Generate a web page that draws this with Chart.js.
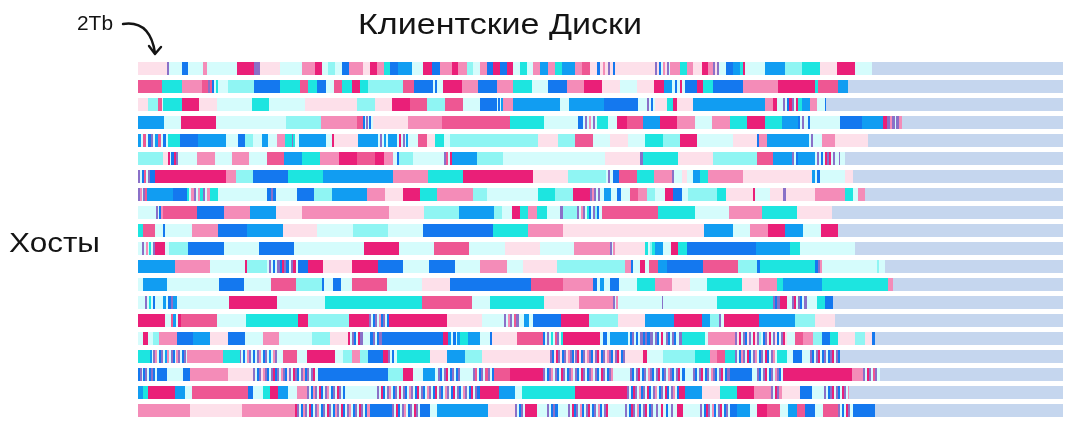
<!DOCTYPE html>
<html>
<head>
<meta charset="utf-8">
<script src="https://cdn.jsdelivr.net/npm/chart.js@4.4.1/dist/chart.umd.min.js"></script>
<style>
  html, body { margin: 0; padding: 0; background: #fff; }
  #wrap { position: relative; width: 1077px; height: 432px; }
  #disks { position: absolute; left: 0; top: 0; }
  #notes { position: absolute; left: 0; top: 0; pointer-events: none; }
  #notes text { font-family: "Liberation Sans", Arial, sans-serif; fill: #141414; }
</style>
</head>
<body>
<div id="wrap">
  <canvas id="disks" width="1077" height="432"></canvas>
  <svg id="notes" width="1077" height="432">
    <text x="358" y="34" font-size="29" textLength="284" lengthAdjust="spacingAndGlyphs">Клиентские Диски</text>
    <text x="9" y="252" font-size="28" textLength="91" lengthAdjust="spacingAndGlyphs">Хосты</text>
    <text x="77" y="30" font-size="20" textLength="36" lengthAdjust="spacingAndGlyphs">2Tb</text>
    <path d="M123,24 Q150,20 155,53" fill="none" stroke="#141414" stroke-width="2.4" stroke-linecap="round"/>
    <path d="M149,46 L155,54 L161,47" fill="none" stroke="#141414" stroke-width="2.4" stroke-linecap="round" stroke-linejoin="round"/>
  </svg>
</div>
<script>
// one bar per host, every host has the same capacity
const hosts = [
  "Хост 1", "Хост 2", "Хост 3", "Хост 4", "Хост 5",
  "Хост 6", "Хост 7", "Хост 8", "Хост 9", "Хост 10",
  "Хост 11", "Хост 12", "Хост 13", "Хост 14", "Хост 15",
  "Хост 16", "Хост 17", "Хост 18", "Хост 19", "Хост 20",
];
const capacity = [925, 925, 925, 925, 925, 925, 925, 925, 925, 925,
                  925, 925, 925, 925, 925, 925, 925, 925, 925, 925];

// client disks on each host, in order: colour letter + size
const host1 = "L29 v2 c13 B6 c15 p4 c30 m17 v6 L20 c22 p13 m7 c6 a7 c7 B7 p14 L7 m7 p7 t6 B8 b14 c11 m9 B8 p12 m6 p9 a6 c7 p7 B6 m7 B7 m6 c7 t7 c6 p7 b8 p7 t7 b13 p7 r8 L7 B3 L3 p2 L3 v2 L3 B2 L2 L38 v2 L2 B2 c2 p2 L2 v2 c1 p10 t7 p6 L9 m6 p5 v2 L2 v2 c1 c6 B7 b7 t3 m2 c3 c17 b20 a17 t18 L17 m18 c17";
const host2 = "r24 t20 p20 r6 v2 r2 B2 c2 t2 c10 a26 B26 t20 r8 t9 B9 c8 r8 t10 m8 t8 a35 r11 B19 c2 B2 c6 m19 p16 B19 p16 t19 c16 B19 p17 m18 L18 c17 L17 m10 b8 c3 B2 c3 m2 c3 B2 B10 m6 t10 B30 p35 m37 t3 r20 b10";
const host3 = "L10 a10 r4 c1 t19 m17 L18 c35 t17 c36 L52 a18 L17 m18 r17 a18 r18 c17 B17 c1 B2 c1 b2 p10 b47 c3 c6 b35 B34 c9 v2 c2 B2 c2 L12 t6 m4 L16 b72 p8 m4 c6 v2 c2 B2 m3 v2 c2 m2 t4 b8 p7 c8 B1";
const host4 = "b26 c17 m35 c70 a35 p36 r6 B2 c1 v2 c1 B2 c2 L35 p34 r68 t34 c34 B5 c2 v2 c2 p2 c2 v2 c2 t11 c9 m10 r16 b17 m17 p18 c17 p18 t17 m18 t17 b16 B2 c2 v2 c1 c3 B2 c5 c25 B22 b21 m4 v3 p2 v3 c1 v3 p3";
const host5 = "b3 c2 r3 c2 B3 v2 c2 b3 r3 c2 B3 c2 t12 B18 b28 c12 B7 a8 c9 b6 c9 p8 t7 v1 t2 c4 b27 c6 m2 L24 b20 c2 v2 c2 b2 c2 b9 c2 m2 c2 v2 c1 b2 c10 r9 L8 t9 c6 a88 L20 a17 r18 c17 L18 c17 t18 a17 m17 c36 L24 B2 p8 b42 c2 v2 c9 p13 L33";
const host6 = "a25 L5 m2 c1 B3 m2 v2 c19 p18 c17 p17 c18 r17 b18 t18 p19 m18 r18 m9 p9 c4 B2 a14 c29 c2 v2 r2 c2 m2 b25 a26 c102 L35 v3 t35 L35 a44 r16 b19 v2 c2 B2 b17 c2 v2 c2 B2 c2 m2 v2 m2 c2 v2 c4 v1 c5";
const host7 = "v2 c2 B2 r2 c2 v2 B5 m71 p10 a17 B35 t35 b70 p35 t35 m70 L35 a38 c2 v2 c3 B6 r18 t17 p18 v2 c3 c5 L5 c6 b7 t8 p35 L69 b3 c2 B3 c25 L8";
const host8 = "v2 p2 c1 v2 r2 b26 B14 t2 c2 p3 v2 c2 p2 t3 v2 c2 p3 t8 c49 B4 v2 B3 c3 c18 B17 a18 b35 p18 L18 m17 t17 p36 a14 c51 t17 a18 m17 v2 p2 v2 c2 v2 c4 b7 c6 B4 c9 r8 p9 a8 c10 m8 B9 c6 a29 t9 L27 m2 c15 L13 v3 L29 p30 t8 c5 p7";
const host9 = "c18 v2 c1 B2 p2 r34 B27 p26 b26 L26 p87 L35 a35 b35 a8 c10 m8 t8 p9 t10 c13 v3 a14 v2 c2 p2 v2 c2 t2 B2 c2 v2 a2 B2 c3 r56 t37 c34 p33 t35 L35";
const host10 = "t5 r12 c8 B2 c27 p26 B29 b36 L34 c36 a35 c35 B70 t35 p35 L141 b29 c17 p18 m17 b18 c18 m17";
const host11 = "c4 v2 c2 p2 c1 t2 c2 v2 m10 c4 a19 B36 c35 B35 c70 m35 c35 r35 c36 L35 c34 p36 v2 c1 p2 L30 t3 c2 a2 t3 b8 c8 m7 t9 B69 b34 t10 c55";
const host12 = "b37 p35 c35 m2 a20 c2 v2 c2 B2 c2 v3 B2 m2 v2 B3 c2 v2 m3 c2 B10 m15 L29 m26 B25 c26 B26 c25 p27 c16 L34 a68 p6 B2 c7 m5 c4 r9 b9 B36 r35 a19 B3 t55 B3 v2 p2 c1 c54 a2 c6";
const host13 = "c5 b24 c52 B25 c27 r25 a26 B2 c9 B8 c11 r35 c35 L28 B81 r32 p30 B4 c3 b4 c6 B9 c18 t18 p17 L18 c17 t35 L17 p18 t6 b39 t66 p5";
const host14 = "c7 v2 c2 t2 c2 B2 c8 b3 c2 B3 v2 b4 c52 m48 c48 t97 r50 c18 t54 L35 p34 v2 c1 p2 c44 v1 c54 t56 v2 B2 v3 m7 c5 v2 m2 c2 v2 B2 c2 v3 c10 t8 B8";
const host15 = "m27 c6 r2 b3 c2 m3 r7 r29 c29 t52 m10 a41 m20 v2 c2 B2 v2 c2 p2 B2 v2 c2 B2 m58 L35 c22 v2 c2 p2 v2 c2 r2 v3 c5 b5 c4 B28 m28 a29 L27 b29 m28 b8 a9 v2 c3 m35 b36 a20 L20";
const host16 = "c5 m5 c5 a6 p18 B16 b17 L18 B17 c18 p16 c33 a18 L18 m2 c2 v2 B2 c2 m2 v3 c7 B3 v2 c2 B2 v3 B61 m5 b3 c2 B3 c1 b3 t8 b12 c10 B2 L25 r26 B2 c2 v2 c2 t2 c2 r2 v2 c2 t2 m37 c3 B4 c3 b18 c2 B2 v2 c2 B2 c2 v3 B2 v2 B3 v3 c2 v2 B2 c2 m2 c3 v2 B2 c2 v2 B2 c3 v3 t23 c3 p27 v2 L2 m2 c2 v2 B2 L2 v2 c2 m2 L2 v2 a2 c2 B2 v2 L2 m2 c2 v2 L2 B2 c2 v2 m2 L2 c8 r8 p10 a9 B8 t8 L17 a10 L7 B3";
const host17 = "t12 b2 c1 v2 p2 c2 B2 v2 c2 b2 p2 c2 v2 B2 c1 p2 v2 c2 B2 v2 c1 p36 t17 v1 c2 B2 c2 p2 v2 c2 B2 c2 v2 p2 c2 B2 v2 c2 b2 c2 p2 v2 c6 r14 c10 m28 c8 a9 p8 a8 B15 m5 v2 c2 B2 c3 t33 L17 b18 a17 L68 v2 B2 L2 m2 v2 L2 B2 v2 L2 p2 v2 B2 L1 v2 m2 L2 B2 v2 L2 p2 v2 B2 L2 v2 m2 L2 B2 v2 L2 p2 v2 B2 L2 v2 m2 L2 B2 v2 L3 L15 m4 c16 a32 t15 p7 r8 t10 v2 c2 B2 p2 v2 c2 m2 B2 c2 v2 p2 c2 B2 v2 c2 m2 B2 c2 v2 p2 c2 t10 c6 B9 c8 v2 B2 c2 v2 m2 c2 B2 v2 c2 B2 v2 m2 c2 v2 B2";
const host18 = "B2 v2 c1 B2 v2 c2 B2 v2 B2 c2 B10 c16 B7 p38 L25 v2 c2 B2 v2 L2 p2 v2 B2 c2 v2 m2 B2 v2 c2 p2 v2 B2 L2 v2 c2 m2 v2 B2 c2 v2 p2 B2 v2 c2 v2 m2 c3 B70 a15 m10 c10 b12 c3 v2 B2 c2 v2 m2 c2 B2 v2 c2 B2 v2 c3 c10 v2 r2 c2 B2 v2 c2 r3 v2 c2 B2 r6 r10 m33 v2 c2 B2 v2 p2 c2 v2 B2 c2 m2 v2 c2 B2 v2 p2 c2 v2 B2 c2 m2 v2 c2 B2 v2 p2 c2 v2 B2 c2 m2 v2 c2 B2 v2 p2 c17 v2 B2 c2 v2 m2 c2 B2 v2 c2 p2 v2 B2 c2 v2 m2 c2 B2 v2 c2 p2 v2 B2 c2 v2 m2 c2 B3 c8 v2 B2 c2 v2 m2 c2 B2 v2 c2 p2 v2 B2 c2 v2 m2 c2 B2 v3 B22 c5 v2 B2 c2 v2 m2 c2 B2 v2 c2 p2 v2 B2 c2 m69 p11 v2 c2 m2 v2 c2 r2 v2 c3";
const host19 = "b5 t5 m27 b10 c7 r56 B5 c10 t7 m8 b10 c9 p10 v2 c2 B2 p2 v2 c2 m2 B2 c2 v2 p2 c2 B2 v2 c2 m2 v2 c2 B2 c2 c30 v2 c2 m2 B2 c2 v2 p2 c2 B2 v2 c2 m2 c2 v2 B2 c2 p2 v2 c2 B2 m2 c2 v2 B2 c2 p2 v2 c2 B2 m2 c2 v2 B2 c2 p2 v2 c2 B2 m2 c2 v2 B2 c2 p2 v2 c2 B2 m2 c2 v2 B3 m19 b16 c7 t53 m52 v2 c2 B2 m2 v2 c2 p2 B2 v2 c2 m2 B2 c2 v2 p2 c2 B2 v2 c2 m2 B2 c2 v2 p2 c2 B2 m6 b17 L18 t17 m17 p17 v2 c2 m2 v2 p3 L18 B12 c12 v2 c2 B2 v2 m2 c2 v2 B2 c2 m2 v2 c2 p1";
const host20 = "p52 L52 p53 m2 v2 c2 B2 p2 v2 c2 m2 B2 c2 v2 p2 c2 B2 v2 c2 m2 v2 c2 B2 p2 v2 c2 m2 B2 c2 v2 p2 c2 B2 v2 c2 m2 v2 c2 B2 p3 B22 v2 c2 m2 B2 c2 v2 p2 c2 B2 v2 c2 m2 v2 c2 B2 B8 c7 b51 L27 v2 c2 B2 v2 c2 m3 m9 c10 v2 c2 B2 v2 B3 c10 v2 c2 m2 B2 v2 c2 p2 B2 c2 v2 m2 c2 B2 v2 c2 p2 B2 c2 v2 m2 c2 c15 v2 c2 B2 m2 v2 c2 p2 B2 c2 v2 m2 c2 B2 v2 c3 v2 c3 m2 c3 B2 c3 v2 c4 m6 c17 v2 c2 B2 m2 v2 c2 p2 B2 c2 v2 m2 c2 B2 v2 c2 B7 b13 c7 m10 r13 c8 b9 r8 B10 c8 r15 v2 c2 B2 c2 m2 v2 c3 B22";

const hostDisks = [host1, host2, host3, host4, host5, host6, host7, host8, host9, host10,
                   host11, host12, host13, host14, host15, host16, host17, host18, host19, host20];

const palette = {
  L: "#fde0ea", // pale pink
  p: "#f48cb8",
  r: "#ee5793",
  m: "#ea1f78",
  c: "#d5fcfc", // pale cyan
  a: "#8ff5f3",
  t: "#1de5e0",
  b: "#119df2",
  B: "#1478ef",
  v: "#8a70c8",
};
const freeColor = "#c5d6ee";

// turn "m17 c6 ..." into floating [start, end] pieces
function parseHost(str) {
  const pieces = [];
  let pos = 0;
  str.trim().split(/\s+/).forEach((tok) => {
    const size = Number(tok.slice(1));
    pieces.push({ color: palette[tok[0]], from: pos, to: pos + size });
    pos += size;
  });
  return pieces;
}

const parsed = hostDisks.map(parseHost);
const maxPieces = Math.max(...parsed.map((p) => p.length));

const datasets = [];
for (let k = 0; k < maxPieces; k++) {
  datasets.push({
    label: "disk " + (k + 1),
    data: parsed.map((p) => (p[k] ? [p[k].from, p[k].to] : null)),
    backgroundColor: parsed.map((p) => (p[k] ? p[k].color : "transparent")),
    order: 0,
  });
}
// free space goes behind everything
datasets.push({
  label: "free",
  data: capacity.map((c) => [0, c]),
  backgroundColor: freeColor,
  order: 1,
});

new Chart(document.getElementById("disks"), {
  type: "bar",
  data: { labels: hosts, datasets: datasets },
  options: {
    indexAxis: "y",
    responsive: false,
    animation: false,
    events: [],
    devicePixelRatio: 1,
    layout: { padding: { left: 138, right: 14, top: 59.5, bottom: 12.5 } },
    datasets: {
      bar: {
        grouped: false,
        categoryPercentage: 1,
        barPercentage: 13 / 18,
        borderWidth: 0,
        borderSkipped: false,
      },
    },
    scales: {
      x: { type: "linear", min: 0, max: 925, display: false },
      y: { display: false },
    },
    plugins: {
      legend: { display: false },
      tooltip: { enabled: false },
    },
  },
});
</script>
</body>
</html>
